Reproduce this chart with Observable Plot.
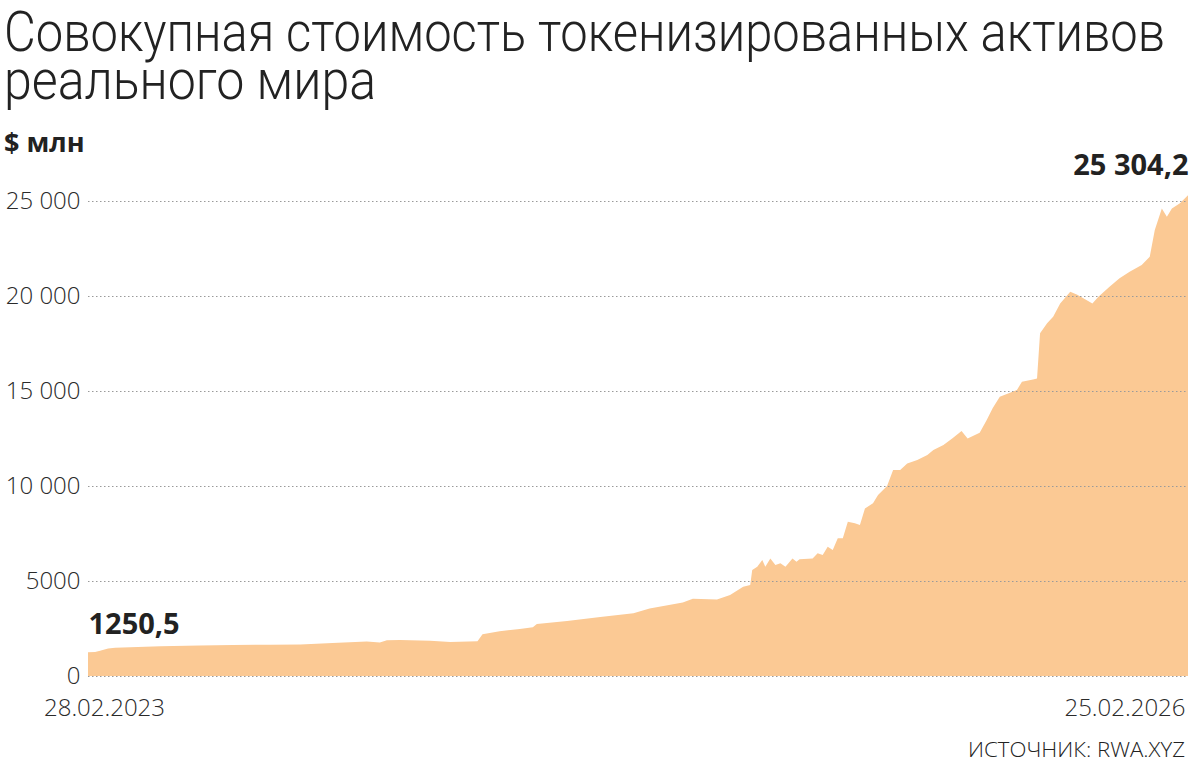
<!DOCTYPE html>
<html><head><meta charset="utf-8">
<script src="https://cdn.jsdelivr.net/npm/d3@7"></script>
<script src="https://cdn.jsdelivr.net/npm/@observablehq/plot@0.6"></script>
<style>
body{margin:0;background:#fff;font-family:"Open Sans",sans-serif;color:#222}
#wrap{position:relative;width:1189px;height:770px;overflow:hidden}
.t{position:absolute;left:4px;width:max-content;font-family:Roboto,"Open Sans",sans-serif;font-weight:300;font-size:56px;line-height:0.85;color:#222;white-space:nowrap;transform-origin:0 0}
#t1{top:9px}
#t2{top:57px}
#unit{position:absolute;left:4px;top:126px;font-weight:700;font-size:27px;line-height:1.2;color:#222}
#chart{position:absolute;left:0;top:160px}
#source{position:absolute;left:968px;top:739px;width:max-content;font-weight:300;font-size:21px;line-height:1;color:#222;white-space:nowrap;transform-origin:0 0}
</style></head>
<body><div id="wrap">
<div class="t" id="t1">Совокупная стоимость токенизированных активов</div>
<div class="t" id="t2">реального мира</div>
<div id="unit">$ млн</div>
<div id="chart"></div>
<div id="source">ИСТОЧНИК: RWA.XYZ</div>
</div>
<script>
const dates = ["2023-02-28","2023-03-07","2023-03-12","2023-03-20","2023-03-27","2023-05-11","2023-06-19","2023-07-22","2023-08-28","2023-09-27","2023-10-29","2023-12-02","2023-12-15","2023-12-22","2024-01-04","2024-02-03","2024-02-23","2024-03-12","2024-03-21","2024-03-26","2024-04-12","2024-05-02","2024-05-15","2024-05-19","2024-06-18","2024-07-21","2024-08-23","2024-09-08","2024-10-11","2024-10-21","2024-11-14",
"2024-11-27","2024-12-10","2024-12-17","2024-12-19","2024-12-24","2024-12-29","2025-01-01","2025-01-06","2025-01-11","2025-01-16","2025-01-21","2025-01-28","2025-02-01","2025-02-04","2025-02-17","2025-02-22","2025-02-27","2025-03-04","2025-03-09","2025-03-14","2025-03-19","2025-03-24","2025-03-31","2025-04-05","2025-04-10","2025-04-18","2025-04-23","2025-05-02","2025-05-08","2025-05-15","2025-05-22","2025-06-01","2025-06-11","2025-06-17","2025-06-27","2025-07-06","2025-07-15","2025-07-21","2025-08-02","2025-08-09","2025-08-15","2025-08-22","2025-09-08","2025-09-13","2025-09-24","2025-09-28","2025-10-01","2025-10-08","2025-10-14","2025-10-21","2025-10-31","2025-11-07","2025-11-13","2025-11-22","2025-11-28","2025-12-09","2025-12-19","2025-12-29","2026-01-10","2026-01-18","2026-01-23","2026-01-30","2026-02-04","2026-02-09","2026-02-17","2026-02-25"];
const values = [1250.5,1260,1330,1450,1490,1560,1600,1630,1650,1660,1740,1820,1760,1880,1900,1850,1790,1810,1830,2200,2360,2480,2560,2740,2890,3110,3300,3550,3870,4060,4020,
4260,4700,4790,5580,5750,6100,5750,6190,5840,5930,5750,6190,6010,6140,6190,6460,6370,6800,6630,7250,7250,8120,8040,7950,8820,9090,9530,10000,10840,10840,11190,11370,11630,11890,12160,12510,12900,12500,12800,13470,14100,14700,15050,15490,15610,15660,18040,18560,18910,19610,20230,20060,19880,19610,19960,20490,20930,21280,21630,22070,23470,24610,24170,24610,24880,25304.2];
const yTicks = [0,5000,10000,15000,20000,25000];
const yTickLabels = ["0","5000","10 000","15 000","20 000","25 000"];
const xTickLabels = ["28.02.2023","25.02.2026"];
const endLabels = ["1250,5","25 304,2"];

// fit the light title/source text to the reference widths
function fit(id, w){const el=document.getElementById(id);const r=el.getBoundingClientRect().width;el.style.transform=`scaleX(${w/r})`;}
fit("t1",1161); fit("t2",372); fit("source",217);

const parse = d3.utcParse("%Y-%m-%d");
const data = dates.map((d,i)=>({date:parse(d), value:values[i]}));
const first = data[0], last = data[data.length-1];

const chart = Plot.plot({
  width:1189, height:570,
  marginLeft:88, marginRight:1, marginTop:41, marginBottom:54,
  style:{fontFamily:"'Open Sans',sans-serif", background:"transparent", overflow:"visible"},
  x:{type:"utc", domain:[first.date,last.date]},
  y:{domain:[0,25000]},
  marks:[
    Plot.areaY(data,{x:"date",y:"value",fill:"#fbc994"}),
    Plot.ruleY(yTicks,{stroke:"#9a9a9a",strokeWidth:1.2,strokeDasharray:"1.5,2.5",x1:first.date,x2:last.date}),
    Plot.axisY({ticks:yTicks, tickSize:0, tickPadding:8, tickFormat:d=>yTickLabels[yTicks.indexOf(d)], fontSize:24, fontWeight:300, fill:"#2a2a2a", label:null}),
    Plot.axisX({ticks:[first.date], tickSize:0, tickPadding:22, tickFormat:()=>xTickLabels[0], fontSize:24, fontWeight:300, fill:"#2a2a2a", textAnchor:"middle", dx:16, label:null}),
    Plot.axisX({ticks:[last.date], tickSize:0, tickPadding:22, tickFormat:()=>xTickLabels[1], fontSize:24, fontWeight:300, fill:"#2a2a2a", textAnchor:"end", dx:-3, label:null}),
    Plot.text([first],{x:"date",y:"value",text:()=>endLabels[0],textAnchor:"start",dy:-28,fontSize:29,fontWeight:700,fill:"#222"}),
    Plot.text([last],{x:"date",y:"value",text:()=>endLabels[1],textAnchor:"end",dy:-30,fontSize:29,fontWeight:700,fill:"#222"})
  ]
});
document.getElementById("chart").appendChild(chart);
</script>
</body></html>
